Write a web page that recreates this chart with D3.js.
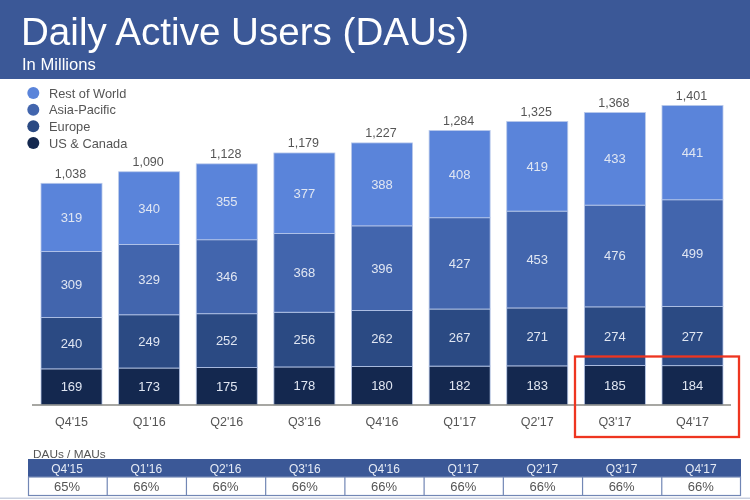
<!DOCTYPE html>
<html><head><meta charset="utf-8">
<script src="https://cdn.jsdelivr.net/npm/d3@7/dist/d3.min.js"></script>
<style>html,body{margin:0;padding:0;background:#fff}svg{display:block;filter:blur(0.35px)}text{font-family:"Liberation Sans",Arial,sans-serif}</style>
</head><body><svg id="c" width="750" height="500"></svg>
<script>
const quarters=["Q4'15","Q1'16","Q2'16","Q3'16","Q4'16","Q1'17","Q2'17","Q3'17","Q4'17"];
const usCanada=[169,173,175,178,180,182,183,185,184];
const europe=[240,249,252,256,262,267,271,274,277];
const asiaPacific=[309,329,346,368,396,427,453,476,499];
const restOfWorld=[319,340,355,377,388,408,419,433,441];
const totals=[1038,1090,1128,1179,1227,1284,1325,1368,1401];
const ratios=["65%","66%","66%","66%","66%","66%","66%","66%","66%"];
const seriesNames=["US & Canada","Europe","Asia-Pacific","Rest of World"];
const seriesValues=[usCanada,europe,asiaPacific,restOfWorld];
const seriesColors=["#14284f","#2b4a83","#4265ad","#5a84da"];
const svg=d3.select("#c");
const textGrey="#555";
// header
svg.append("rect").attr("width",750).attr("height",79).attr("fill","#3b5897");
svg.append("text").attr("x",21).attr("y",44.5).attr("font-size",38.6).attr("fill","#fff").text("Daily Active Users (DAUs)");
svg.append("text").attr("x",22).attr("y",70).attr("font-size",16.6).attr("fill","#fff").text("In Millions");
// scales
const x=d3.scaleBand().domain(quarters).range([41,723]).paddingInner(0.214).paddingOuter(0);
const y=d3.scaleLinear().domain([0,1401]).range([405,105.5]);
// stacks
const table=quarters.map((q,i)=>{const o={q};seriesNames.forEach((n,k)=>o[n]=seriesValues[k][i]);return o;});
const stack=d3.stack().keys(seriesNames)(table);
const g=svg.append("g");
stack.forEach((s,k)=>{
  g.selectAll(null).data(s).join("rect")
   .attr("x",d=>x(d.data.q)).attr("width",x.bandwidth())
   .attr("y",d=>y(d[1])).attr("height",d=>y(d[0])-y(d[1]))
   .attr("fill",seriesColors[k]).attr("stroke","#b9c9ea").attr("stroke-width",0.8);
  g.selectAll(null).data(s).join("text")
   .attr("x",d=>x(d.data.q)+x.bandwidth()/2).attr("y",d=>(y(d[0])+y(d[1]))/2+4.5)
   .attr("text-anchor","middle").attr("font-size",13).attr("fill","#e0e6f2")
   .text(d=>d[1]-d[0]);
});
// totals
g.selectAll(null).data(quarters).join("text")
 .attr("x",d=>x(d)+x.bandwidth()/2-1).attr("y",(d,i)=>y(totals[i])-5.5)
 .attr("text-anchor","middle").attr("font-size",12.5).attr("fill",textGrey)
 .text((d,i)=>d3.format(",")(totals[i]));
// axis
const axis=svg.append("g").attr("transform","translate(0,405)").call(d3.axisBottom(x).tickSize(0).tickPadding(12));
axis.select(".domain").attr("d","M32,0H731").attr("stroke","#8a8a85").attr("stroke-width",1.5);
axis.selectAll("text").attr("font-size",12.5).attr("fill",textGrey).attr("font-family",'"Liberation Sans",Arial,sans-serif');
// legend
const legendNames=seriesNames.slice().reverse(),legendColors=seriesColors.slice().reverse();
const ly=d3.scalePoint().domain(legendNames).range([93,143]);
legendNames.forEach((n,i)=>{
  svg.append("circle").attr("cx",33.3).attr("cy",ly(n)).attr("r",6).attr("fill",legendColors[i]);
  svg.append("text").attr("x",49).attr("y",ly(n)+4.5).attr("font-size",12.8).attr("fill",textGrey).text(n);
});
// table
svg.append("text").attr("x",33).attr("y",457.5).attr("font-size",11.8).attr("fill",textGrey).text("DAUs / MAUs");
const t=d3.scaleBand().domain(quarters).range([28,741]);
svg.append("rect").attr("x",28).attr("y",459).attr("width",713).attr("height",18).attr("fill","#3b5897");
svg.append("rect").attr("x",28.5).attr("y",477).attr("width",712).attr("height",18.5).attr("fill","#fff").attr("stroke","#7287b5").attr("stroke-width",1.2);
svg.selectAll(null).data(quarters.slice(1)).join("line")
 .attr("x1",d=>t(d)).attr("x2",d=>t(d)).attr("y1",477).attr("y2",495.5).attr("stroke","#7287b5").attr("stroke-width",1.2);
svg.selectAll(null).data(quarters).join("text")
 .attr("x",d=>t(d)+t.bandwidth()/2-0.5).attr("y",473).attr("text-anchor","middle").attr("font-size",12).attr("fill","#e6ebf5").text(d=>d);
svg.selectAll(null).data(quarters).join("text")
 .attr("x",d=>t(d)+t.bandwidth()/2-0.5).attr("y",491).attr("text-anchor","middle").attr("font-size",13).attr("fill",textGrey).text((d,i)=>ratios[i]);
svg.append("rect").attr("x",0).attr("y",497.5).attr("width",750).attr("height",1.5).attr("fill","#c9d0df");
// highlight
svg.append("rect").attr("x",575).attr("y",356.5).attr("width",164).attr("height",80.5).attr("fill","none").attr("stroke","#ee3520").attr("stroke-width",2.3);
</script></body></html>
